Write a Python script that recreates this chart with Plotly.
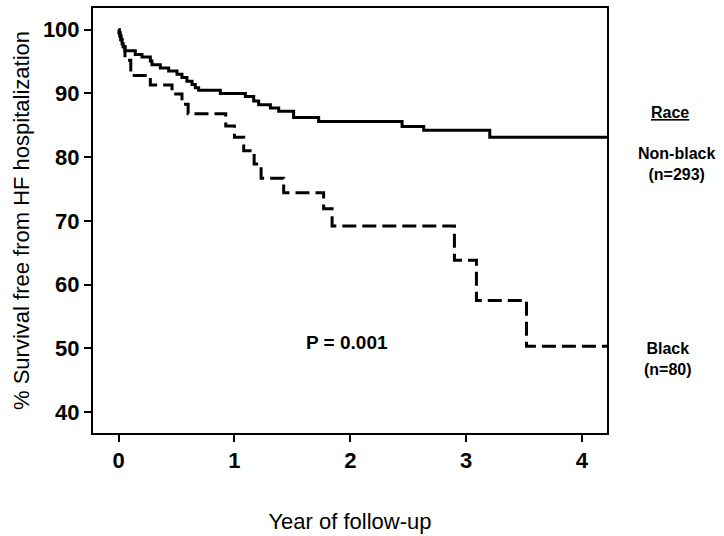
import plotly.graph_objects as go

# Kaplan-Meier style step data
nonblack_time = [0, 0.005, 0.012, 0.02, 0.03, 0.04, 0.055, 0.144, 0.202, 0.274, 0.288,
                 0.36, 0.432, 0.504, 0.547, 0.59, 0.634, 0.662, 0.691, 0.878, 1.094,
                 1.166, 1.209, 1.31, 1.382, 1.511, 1.727, 2.447, 2.634, 3.204, 4.3]
nonblack_surv = [100, 99.5, 99.0, 98.4, 97.8, 97.3, 96.7, 96.1, 95.7, 95.1, 94.5,
                 94.0, 93.5, 93.0, 92.5, 91.9, 91.4, 90.9, 90.5, 90.0, 89.5,
                 88.8, 88.2, 87.7, 87.2, 86.2, 85.6, 84.8, 84.2, 83.1, 83.1]

black_time = [0, 0.005, 0.012, 0.02, 0.03, 0.04, 0.055, 0.105, 0.274, 0.461, 0.547,
              0.6, 0.925, 1.0, 1.08, 1.17, 1.23, 1.425, 1.77, 1.843, 2.899, 3.089,
              3.521, 4.3]
black_surv = [100, 99.5, 99.0, 98.4, 97.8, 97.3, 95.2, 92.8, 91.3, 89.9, 88.3,
              86.8, 84.9, 83.1, 81.0, 78.9, 76.7, 74.4, 71.9, 69.2, 63.8, 57.5,
              50.3, 50.3]

x_ticks = [0, 1, 2, 3, 4]
y_ticks = [40, 50, 60, 70, 80, 90, 100]

FONT = "Liberation Sans, Arial, sans-serif"

fig = go.Figure()
fig.add_trace(go.Scatter(
    x=nonblack_time, y=nonblack_surv, mode="lines", line_shape="hv",
    line=dict(color="black", width=3), name="Non-black", showlegend=False))
fig.add_trace(go.Scatter(
    x=black_time, y=black_surv, mode="lines", line_shape="hv",
    line=dict(color="black", width=3, dash="14px,6px"), name="Black", showlegend=False))

axis_common = dict(showline=True, mirror=True, linecolor="black", linewidth=2,
                   ticks="outside", ticklen=7, tickwidth=2, tickcolor="black",
                   showgrid=False, zeroline=False,
                   tickfont=dict(family=FONT, size=22, color="black", weight="bold"))

fig.update_xaxes(range=[-0.221, 4.216], tickvals=x_ticks,
                 ticktext=[str(v) for v in x_ticks],
                 title=dict(text="Year of follow-up", standoff=41,
                            font=dict(family=FONT, size=22, color="black")),
                 **axis_common)
fig.update_yaxes(range=[36.7, 103.4], tickvals=y_ticks,
                 ticktext=[str(v) for v in y_ticks],
                 title=dict(text="% Survival free from HF hospitalization", standoff=7,
                            font=dict(family=FONT, size=22, color="black")),
                 **axis_common)

ann_font = dict(family=FONT, size=16, color="black", weight="bold")
fig.add_annotation(x=1.975, y=50.9, xref="x", yref="y", text="P = 0.001",
                   xanchor="center", yanchor="middle", showarrow=False,
                   font=dict(family=FONT, size=19, color="black", weight="bold"))
fig.add_annotation(x=1.1226, y=0.755, xref="paper", yref="paper", text="<u>Race</u>",
                   xanchor="center", yanchor="middle", showarrow=False, font=ann_font)
fig.add_annotation(x=1.136, y=0.634, xref="paper", yref="paper", text="Non-black<br>(n=293)",
                   xanchor="center", yanchor="middle", showarrow=False, font=ann_font)
fig.add_annotation(x=1.119, y=0.175, xref="paper", yref="paper", text="Black<br>(n=80)",
                   xanchor="center", yanchor="middle", showarrow=False, font=ann_font)

fig.update_layout(width=724, height=536, plot_bgcolor="white", paper_bgcolor="white",
                  margin=dict(l=93, r=117, t=6, b=101), showlegend=False)

fig.write_html("out.html", config={"displayModeBar": False},
               post_script="document.body.style.margin='0px';")
